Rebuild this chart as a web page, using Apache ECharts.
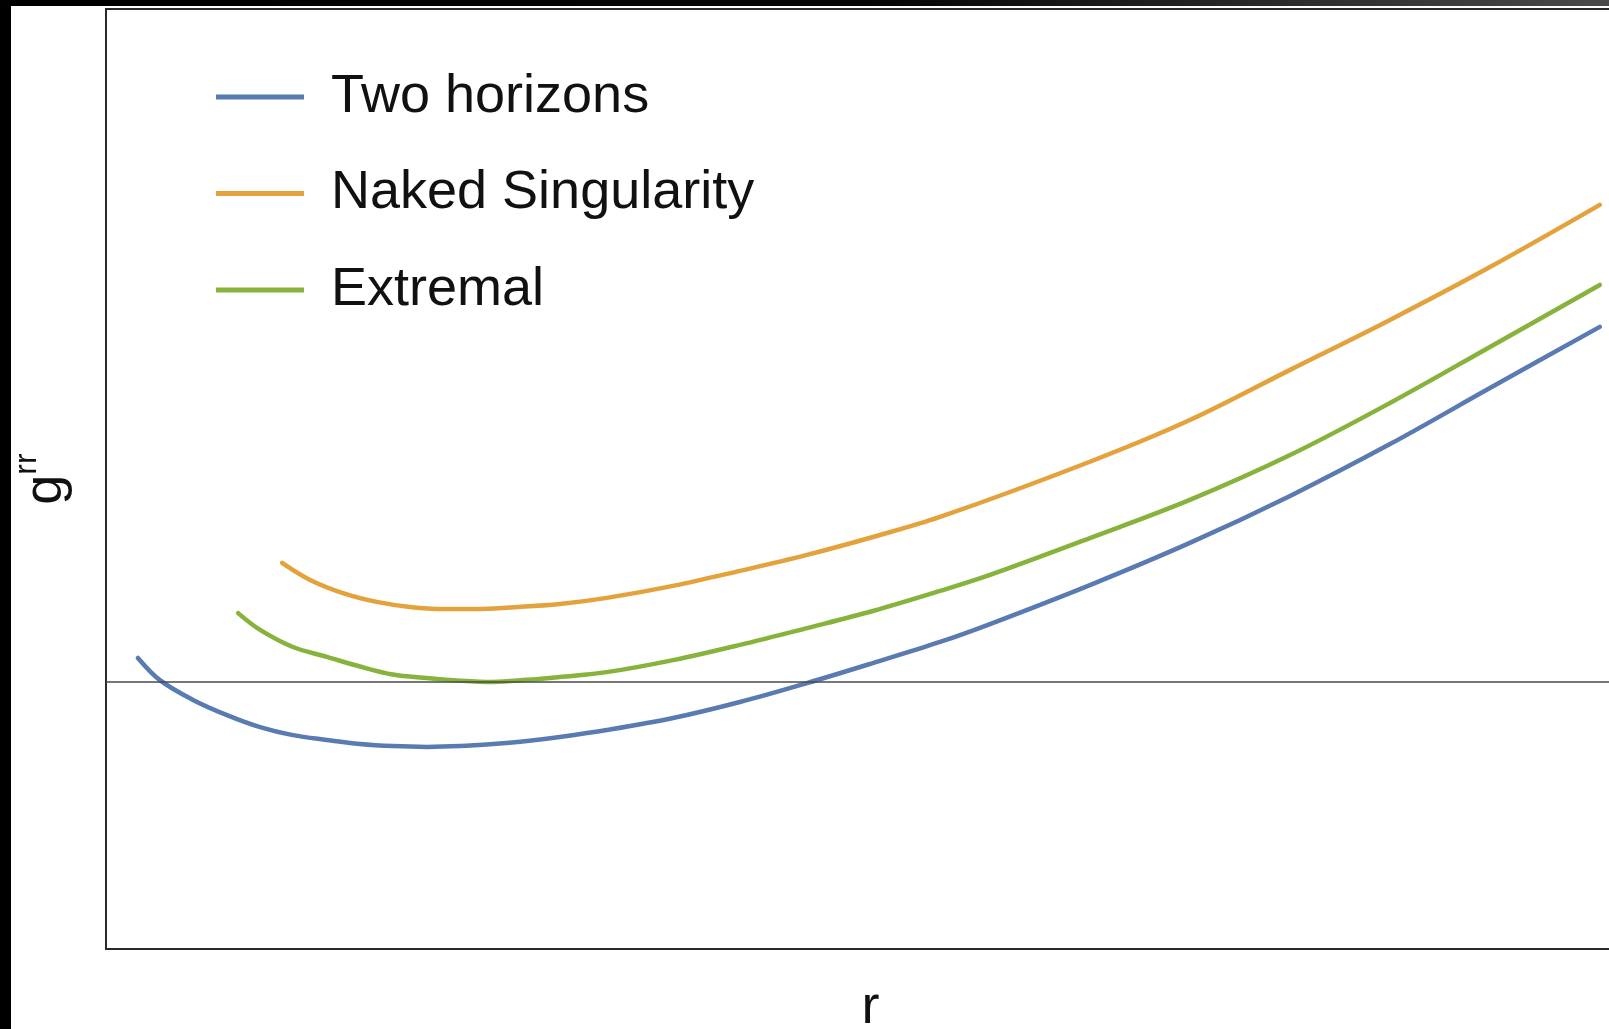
<!DOCTYPE html>
<html>
<head>
<meta charset="utf-8">
<script src="https://cdn.jsdelivr.net/npm/echarts@6/dist/echarts.min.js"></script>
<style>
  html, body { margin: 0; padding: 0; background: #fff; }
  #chart { width: 1609px; height: 1029px; }
</style>
</head>
<body>
<div id="chart"></div>
<script>
// g^rr against r for three metric configurations
const legendNames = ['Two horizons', 'Naked Singularity', 'Extremal'];

const rTwoHorizons = [0.106, 0.179, 0.289, 0.402, 0.512, 0.621, 0.734, 0.844, 0.953, 1.066, 1.176, 1.286, 1.399, 1.508, 1.664, 1.884, 2.106, 2.329, 2.548, 2.771, 2.937, 3.269, 3.601, 3.934, 4.266, 4.598, 4.963];
const gTwoHorizons = [0.090, 0.007, -0.067, -0.124, -0.169, -0.199, -0.217, -0.232, -0.240, -0.243, -0.240, -0.232, -0.221, -0.206, -0.180, -0.135, -0.075, -0.004, 0.071, 0.150, 0.217, 0.363, 0.521, 0.697, 0.891, 1.101, 1.330];

const rNaked = [0.585, 0.678, 0.787, 0.900, 1.010, 1.120, 1.233, 1.342, 1.508, 1.664, 1.884, 2.106, 2.329, 2.548, 2.771, 3.269, 3.601, 3.934, 4.266, 4.598, 4.963];
const gNaked = [0.446, 0.382, 0.333, 0.300, 0.281, 0.273, 0.273, 0.279, 0.292, 0.315, 0.360, 0.416, 0.476, 0.543, 0.618, 0.825, 0.981, 1.169, 1.356, 1.554, 1.787];

const rExtremal = [0.439, 0.512, 0.621, 0.734, 0.844, 0.953, 1.066, 1.176, 1.286, 1.399, 1.508, 1.664, 1.884, 2.106, 2.329, 2.548, 2.771, 2.937, 3.269, 3.601, 3.934, 4.266, 4.598, 4.963];
const gExtremal = [0.258, 0.195, 0.131, 0.094, 0.058, 0.028, 0.015, 0.005, 0.000, 0.008, 0.019, 0.037, 0.082, 0.139, 0.202, 0.266, 0.341, 0.401, 0.539, 0.682, 0.850, 1.045, 1.255, 1.487];

const colors = { two: '#5a7bb2', naked: '#e4a23c', extremal: '#87b33d' };
const FONT = '"Liberation Sans", Arial, Helvetica, sans-serif';

const pairs = (xs, ys) => xs.map((x, i) => [x, ys[i]]);

const chart = echarts.init(document.getElementById('chart'));

function curve(name, xs, ys, color) {
  return {
    name: name,
    type: 'line',
    data: pairs(xs, ys),
    smooth: 0.35,
    symbol: 'none',
    lineStyle: { color: color, width: 4.5, cap: 'round' },
    itemStyle: { color: color },
    z: 3
  };
}

chart.setOption({
  backgroundColor: '#ffffff',
  animation: false,
  grid: {
    left: 106, top: 9, bottom: 80, right: -26,
    outerBoundsMode: 'none', containLabel: false,
    show: true, borderColor: '#2a2a2a', borderWidth: 2, backgroundColor: 'transparent'
  },
  xAxis: {
    type: 'value', min: 0, max: 5.08,
    name: 'r', nameLocation: 'middle', nameGap: 32,
    nameTextStyle: { fontSize: 54, color: '#111', fontFamily: FONT },
    axisLine: { show: false }, axisTick: { show: false }, axisLabel: { show: false }, splitLine: { show: false }
  },
  yAxis: {
    type: 'value', min: -1, max: 2.5206,
    name: '{g|g}{s|rr}', nameLocation: 'middle', nameGap: 25,
    nameTextStyle: {
      rich: {
        g: { fontSize: 54, lineHeight: 70, color: '#111', fontFamily: FONT },
        s: { fontSize: 32, lineHeight: 20, verticalAlign: 'top', color: '#111', fontFamily: FONT }
      }
    },
    axisLine: { show: false }, axisTick: { show: false }, axisLabel: { show: false }, splitLine: { show: false }
  },
  legend: {
    data: legendNames,
    orient: 'vertical', left: 211, top: 62,
    icon: 'rect', itemWidth: 88, itemHeight: 5, itemGap: 36.5,
    selectedMode: false,
    textStyle: { fontSize: 54, lineHeight: 60, color: '#111', fontFamily: FONT, padding: [0, 0, 0, 22] }
  },
  graphic: [
    { type: 'rect', silent: true, z: 100, shape: { x: 0, y: 0, width: 11, height: 1029 }, style: { fill: '#000' } },
    { type: 'rect', silent: true, z: 100, shape: { x: 0, y: 0, width: 1609, height: 6 },
      style: { fill: new echarts.graphic.LinearGradient(0, 0, 1, 0, [
        { offset: 0, color: '#000' }, { offset: 0.55, color: '#050505' }, { offset: 1, color: '#4a4a4a' }
      ]) } }
  ],
  series: [
    {
      name: 'zero', type: 'line', data: [], z: 1,
      markLine: {
        silent: true, symbol: 'none', label: { show: false },
        lineStyle: { color: '#4a4a4a', width: 1.5, type: 'solid' },
        data: [{ yAxis: 0 }]
      }
    },
    curve('Two horizons', rTwoHorizons, gTwoHorizons, colors.two),
    curve('Naked Singularity', rNaked, gNaked, colors.naked),
    curve('Extremal', rExtremal, gExtremal, colors.extremal)
  ]
});
</script>
</body>
</html>
